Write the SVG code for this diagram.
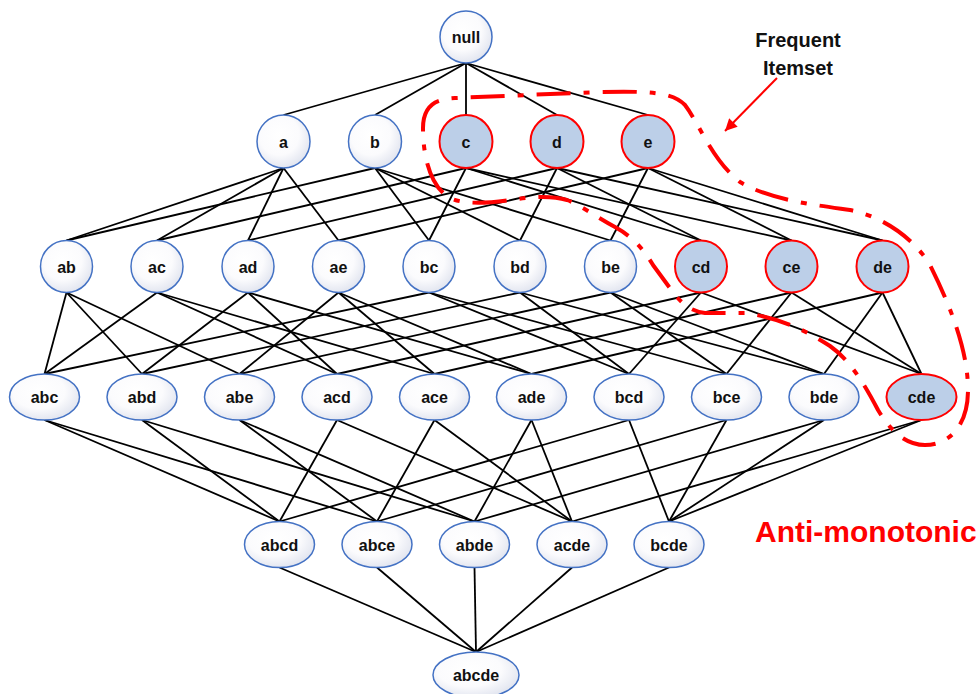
<svg xmlns="http://www.w3.org/2000/svg" width="979" height="694" viewBox="0 0 979 694">
  <style>
    .edge { stroke: #000; stroke-width: 1.8; fill: none; }
    .node circle, .node ellipse { fill: url(#nodeFill); stroke: #4472c4; stroke-width: 1.5; }
    .freq circle, .freq ellipse { fill: #bccfe8; stroke: #ff0000; stroke-width: 2; }
    .node text { font-family: "Liberation Sans", Arial, sans-serif; font-weight: bold; font-size: 16px; fill: #111; text-anchor: middle; }
    .boundary { fill: none; stroke: #ff0000; stroke-width: 4; stroke-dasharray: 34 13 6 13; stroke-linejoin: round; }
    .note { font-family: "Liberation Sans", Arial, sans-serif; font-weight: bold; }
  </style>
  <defs>
    <radialGradient id="nodeFill" cx="0.42" cy="0.38" r="0.68">
      <stop offset="0" stop-color="#ffffff"/>
      <stop offset="0.55" stop-color="#fbfbfd"/>
      <stop offset="1" stop-color="#dde1ed"/>
    </radialGradient>
    <marker id="arrowHead" viewBox="0 0 10 10" refX="10" refY="5" markerWidth="7" markerHeight="6" orient="auto" markerUnits="strokeWidth">
      <path d="M0,0 L10,5 L0,10 z" fill="#ff0000"/>
    </marker>
  </defs>

  <!-- lattice edges: each itemset linked to its supersets one level down -->
  <g id="connectors">
    <!-- null -> 1-itemsets -->
    <line class="edge" x1="466" y1="63" x2="283.5" y2="115"/>
    <line class="edge" x1="466" y1="63" x2="375" y2="115"/>
    <line class="edge" x1="466" y1="63" x2="466" y2="115"/>
    <line class="edge" x1="466" y1="63" x2="557" y2="115"/>
    <line class="edge" x1="466" y1="63" x2="648" y2="115"/>
    <!-- 1-itemsets -> 2-itemsets -->
    <line class="edge" x1="283.5" y1="168" x2="66.5" y2="240.5"/>
    <line class="edge" x1="283.5" y1="168" x2="157" y2="240.5"/>
    <line class="edge" x1="283.5" y1="168" x2="248" y2="240.5"/>
    <line class="edge" x1="283.5" y1="168" x2="338.5" y2="240.5"/>
    <line class="edge" x1="375" y1="168" x2="66.5" y2="240.5"/>
    <line class="edge" x1="375" y1="168" x2="429" y2="240.5"/>
    <line class="edge" x1="375" y1="168" x2="520" y2="240.5"/>
    <line class="edge" x1="375" y1="168" x2="610.5" y2="240.5"/>
    <line class="edge" x1="466" y1="168" x2="157" y2="240.5"/>
    <line class="edge" x1="466" y1="168" x2="429" y2="240.5"/>
    <line class="edge" x1="466" y1="168" x2="701" y2="240.5"/>
    <line class="edge" x1="466" y1="168" x2="791.5" y2="240.5"/>
    <line class="edge" x1="557" y1="168" x2="248" y2="240.5"/>
    <line class="edge" x1="557" y1="168" x2="520" y2="240.5"/>
    <line class="edge" x1="557" y1="168" x2="701" y2="240.5"/>
    <line class="edge" x1="557" y1="168" x2="882.5" y2="240.5"/>
    <line class="edge" x1="648" y1="168" x2="338.5" y2="240.5"/>
    <line class="edge" x1="648" y1="168" x2="610.5" y2="240.5"/>
    <line class="edge" x1="648" y1="168" x2="791.5" y2="240.5"/>
    <line class="edge" x1="648" y1="168" x2="882.5" y2="240.5"/>
    <!-- 2-itemsets -> 3-itemsets -->
    <line class="edge" x1="66.5" y1="292.5" x2="44.5" y2="374"/>
    <line class="edge" x1="66.5" y1="292.5" x2="142" y2="374"/>
    <line class="edge" x1="66.5" y1="292.5" x2="239.5" y2="374"/>
    <line class="edge" x1="157" y1="292.5" x2="44.5" y2="374"/>
    <line class="edge" x1="157" y1="292.5" x2="337" y2="374"/>
    <line class="edge" x1="157" y1="292.5" x2="434.5" y2="374"/>
    <line class="edge" x1="248" y1="292.5" x2="142" y2="374"/>
    <line class="edge" x1="248" y1="292.5" x2="337" y2="374"/>
    <line class="edge" x1="248" y1="292.5" x2="531.5" y2="374"/>
    <line class="edge" x1="338.5" y1="292.5" x2="239.5" y2="374"/>
    <line class="edge" x1="338.5" y1="292.5" x2="434.5" y2="374"/>
    <line class="edge" x1="338.5" y1="292.5" x2="531.5" y2="374"/>
    <line class="edge" x1="429" y1="292.5" x2="44.5" y2="374"/>
    <line class="edge" x1="429" y1="292.5" x2="629" y2="374"/>
    <line class="edge" x1="429" y1="292.5" x2="726.5" y2="374"/>
    <line class="edge" x1="520" y1="292.5" x2="142" y2="374"/>
    <line class="edge" x1="520" y1="292.5" x2="629" y2="374"/>
    <line class="edge" x1="520" y1="292.5" x2="824" y2="374"/>
    <line class="edge" x1="610.5" y1="292.5" x2="239.5" y2="374"/>
    <line class="edge" x1="610.5" y1="292.5" x2="726.5" y2="374"/>
    <line class="edge" x1="610.5" y1="292.5" x2="824" y2="374"/>
    <line class="edge" x1="701" y1="292.5" x2="337" y2="374"/>
    <line class="edge" x1="701" y1="292.5" x2="629" y2="374"/>
    <line class="edge" x1="701" y1="292.5" x2="921.5" y2="374"/>
    <line class="edge" x1="791.5" y1="292.5" x2="434.5" y2="374"/>
    <line class="edge" x1="791.5" y1="292.5" x2="726.5" y2="374"/>
    <line class="edge" x1="791.5" y1="292.5" x2="921.5" y2="374"/>
    <line class="edge" x1="882.5" y1="292.5" x2="531.5" y2="374"/>
    <line class="edge" x1="882.5" y1="292.5" x2="824" y2="374"/>
    <line class="edge" x1="882.5" y1="292.5" x2="921.5" y2="374"/>
    <!-- 3-itemsets -> 4-itemsets -->
    <line class="edge" x1="44.5" y1="420" x2="279.5" y2="521.5"/>
    <line class="edge" x1="44.5" y1="420" x2="377" y2="521.5"/>
    <line class="edge" x1="142" y1="420" x2="279.5" y2="521.5"/>
    <line class="edge" x1="142" y1="420" x2="474.5" y2="521.5"/>
    <line class="edge" x1="239.5" y1="420" x2="377" y2="521.5"/>
    <line class="edge" x1="239.5" y1="420" x2="474.5" y2="521.5"/>
    <line class="edge" x1="337" y1="420" x2="279.5" y2="521.5"/>
    <line class="edge" x1="337" y1="420" x2="572" y2="521.5"/>
    <line class="edge" x1="434.5" y1="420" x2="377" y2="521.5"/>
    <line class="edge" x1="434.5" y1="420" x2="572" y2="521.5"/>
    <line class="edge" x1="531.5" y1="420" x2="474.5" y2="521.5"/>
    <line class="edge" x1="531.5" y1="420" x2="572" y2="521.5"/>
    <line class="edge" x1="629" y1="420" x2="279.5" y2="521.5"/>
    <line class="edge" x1="629" y1="420" x2="669" y2="521.5"/>
    <line class="edge" x1="726.5" y1="420" x2="377" y2="521.5"/>
    <line class="edge" x1="726.5" y1="420" x2="669" y2="521.5"/>
    <line class="edge" x1="824" y1="420" x2="474.5" y2="521.5"/>
    <line class="edge" x1="824" y1="420" x2="669" y2="521.5"/>
    <line class="edge" x1="921.5" y1="420" x2="572" y2="521.5"/>
    <line class="edge" x1="921.5" y1="420" x2="669" y2="521.5"/>
    <!-- 4-itemsets -> full set -->
    <line class="edge" x1="279.5" y1="567.5" x2="476" y2="652"/>
    <line class="edge" x1="377" y1="567.5" x2="476" y2="652"/>
    <line class="edge" x1="474.5" y1="567.5" x2="476" y2="652"/>
    <line class="edge" x1="572" y1="567.5" x2="476" y2="652"/>
    <line class="edge" x1="669" y1="567.5" x2="476" y2="652"/>
  </g>

  <!-- level 0 -->
  <g id="n-null" class="node"><circle cx="466" cy="37" r="26"/><text x="466" y="43">null</text></g>

  <!-- level 1 -->
  <g id="n-a" class="node"><circle cx="283.5" cy="141.5" r="26.5"/><text x="283.5" y="147.5">a</text></g>
  <g id="n-b" class="node"><circle cx="375" cy="141.5" r="26.5"/><text x="375" y="147.5">b</text></g>
  <g id="n-c" class="node freq"><circle cx="466" cy="141.5" r="26.5"/><text x="466" y="147.5">c</text></g>
  <g id="n-d" class="node freq"><circle cx="557" cy="141.5" r="26.5"/><text x="557" y="147.5">d</text></g>
  <g id="n-e" class="node freq"><circle cx="648" cy="141.5" r="26.5"/><text x="648" y="147.5">e</text></g>

  <!-- level 2 -->
  <g id="n-ab" class="node"><circle cx="66.5" cy="266.5" r="26"/><text x="66.5" y="272.5">ab</text></g>
  <g id="n-ac" class="node"><circle cx="157" cy="266.5" r="26"/><text x="157" y="272.5">ac</text></g>
  <g id="n-ad" class="node"><circle cx="248" cy="266.5" r="26"/><text x="248" y="272.5">ad</text></g>
  <g id="n-ae" class="node"><circle cx="338.5" cy="266.5" r="26"/><text x="338.5" y="272.5">ae</text></g>
  <g id="n-bc" class="node"><circle cx="429" cy="266.5" r="26"/><text x="429" y="272.5">bc</text></g>
  <g id="n-bd" class="node"><circle cx="520" cy="266.5" r="26"/><text x="520" y="272.5">bd</text></g>
  <g id="n-be" class="node"><circle cx="610.5" cy="266.5" r="26"/><text x="610.5" y="272.5">be</text></g>
  <g id="n-cd" class="node freq"><circle cx="701" cy="266.5" r="26"/><text x="701" y="272.5">cd</text></g>
  <g id="n-ce" class="node freq"><circle cx="791.5" cy="266.5" r="26"/><text x="791.5" y="272.5">ce</text></g>
  <g id="n-de" class="node freq"><circle cx="882.5" cy="266.5" r="26"/><text x="882.5" y="272.5">de</text></g>

  <!-- level 3 -->
  <g id="n-abc" class="node"><ellipse cx="44.5" cy="397" rx="35" ry="23"/><text x="44.5" y="403">abc</text></g>
  <g id="n-abd" class="node"><ellipse cx="142" cy="397" rx="35" ry="23"/><text x="142" y="403">abd</text></g>
  <g id="n-abe" class="node"><ellipse cx="239.5" cy="397" rx="35" ry="23"/><text x="239.5" y="403">abe</text></g>
  <g id="n-acd" class="node"><ellipse cx="337" cy="397" rx="35" ry="23"/><text x="337" y="403">acd</text></g>
  <g id="n-ace" class="node"><ellipse cx="434.5" cy="397" rx="35" ry="23"/><text x="434.5" y="403">ace</text></g>
  <g id="n-ade" class="node"><ellipse cx="531.5" cy="397" rx="35" ry="23"/><text x="531.5" y="403">ade</text></g>
  <g id="n-bcd" class="node"><ellipse cx="629" cy="397" rx="35" ry="23"/><text x="629" y="403">bcd</text></g>
  <g id="n-bce" class="node"><ellipse cx="726.5" cy="397" rx="35" ry="23"/><text x="726.5" y="403">bce</text></g>
  <g id="n-bde" class="node"><ellipse cx="824" cy="397" rx="35" ry="23"/><text x="824" y="403">bde</text></g>
  <g id="n-cde" class="node freq"><ellipse cx="921.5" cy="397" rx="35" ry="23"/><text x="921.5" y="403">cde</text></g>

  <!-- level 4 -->
  <g id="n-abcd" class="node"><ellipse cx="279.5" cy="544.5" rx="35" ry="23"/><text x="279.5" y="550.5">abcd</text></g>
  <g id="n-abce" class="node"><ellipse cx="377" cy="544.5" rx="35" ry="23"/><text x="377" y="550.5">abce</text></g>
  <g id="n-abde" class="node"><ellipse cx="474.5" cy="544.5" rx="35" ry="23"/><text x="474.5" y="550.5">abde</text></g>
  <g id="n-acde" class="node"><ellipse cx="572" cy="544.5" rx="35" ry="23"/><text x="572" y="550.5">acde</text></g>
  <g id="n-bcde" class="node"><ellipse cx="669" cy="544.5" rx="35" ry="23"/><text x="669" y="550.5">bcde</text></g>

  <!-- level 5 -->
  <g id="n-abcde" class="node"><ellipse cx="476" cy="675" rx="43" ry="23"/><text x="476" y="681">abcde</text></g>

  <!-- dash-dot border around the frequent itemsets -->
  <g id="frequent-border">
    <path class="boundary" d="M 423,128 C 423,108 432,99 455,98 L 600,92 C 650,91 672,92 685,105 C 700,125 712,160 740,182 C 770,200 815,205 850,210 C 885,217 915,240 930,265 C 950,305 968,350 968,390 C 968,425 950,445 925,445 C 905,445 890,430 878,410 C 865,385 850,360 830,346 C 805,330 780,318 745,313 L 705,313 C 690,311 682,303 675,295 L 653,265 C 645,252 635,238 615,227 C 595,216 580,205 567,200 C 550,195 530,197 510,200 C 490,203 465,205 450,198 C 432,188 423,160 423,128 Z"/>
  </g>

  <!-- annotations -->
  <g id="label-frequent">
    <text class="note" x="798" y="47" font-size="20" text-anchor="middle" fill="#111">Frequent</text>
    <text class="note" x="798" y="75" font-size="20" text-anchor="middle" fill="#111">Itemset</text>
    <line x1="777" y1="78" x2="725" y2="131" stroke="#ff0000" stroke-width="2" marker-end="url(#arrowHead)"/>
  </g>
  <g id="label-anti">
    <text class="note" x="755" y="542" font-size="30" fill="#ff0000">Anti-monotonic</text>
  </g>
</svg>
